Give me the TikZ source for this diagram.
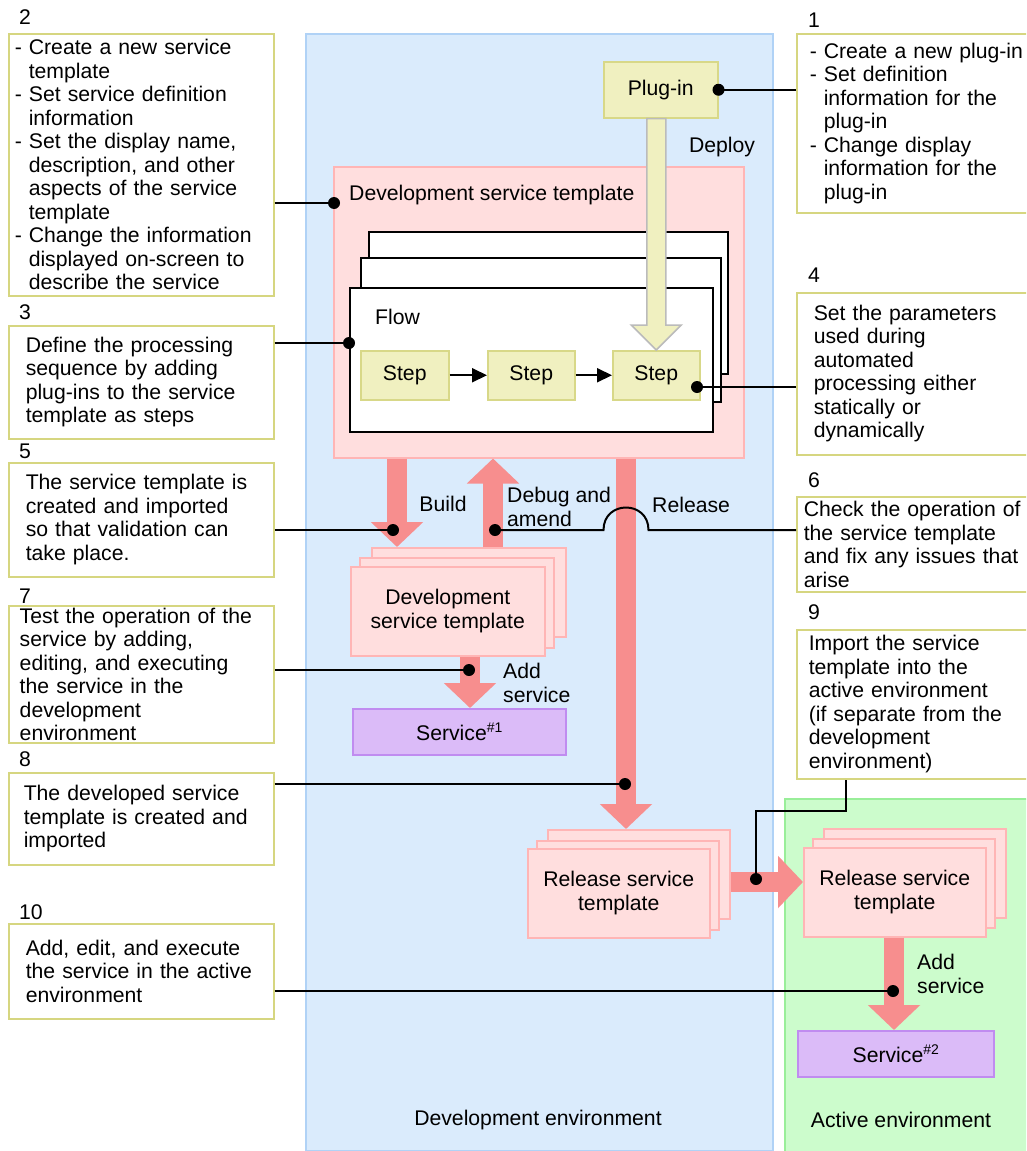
\documentclass[tikz,border=0pt]{standalone}
\usepackage{fontspec}
\setmainfont{Liberation Sans}
\usetikzlibrary{arrows.meta,calc}

\definecolor{devfill}{HTML}{DAEBFC}
\definecolor{devedge}{HTML}{B0D2F6}
\definecolor{actfill}{HTML}{CCFCCC}
\definecolor{actedge}{HTML}{99EE99}
\definecolor{noteedge}{HTML}{D6D680}
\definecolor{tplfill}{HTML}{FFDEDE}
\definecolor{tpledge}{HTML}{FFB5B5}
\definecolor{fatpink}{HTML}{F78E8E}
\definecolor{stepfill}{HTML}{F0F0C0}
\definecolor{stepedge}{HTML}{D8D888}
\definecolor{svcfill}{HTML}{DBBBF8}
\definecolor{svcedge}{HTML}{C08CF0}
\definecolor{deployedge}{HTML}{BBBBBB}

\newcommand\supnum[1]{\raisebox{0.75ex}{\fontsize{14}{14}\selectfont #1}}

\begin{document}
\begin{tikzpicture}[x=1pt,y=-1pt,
  every node/.style={font=\fontsize{21.2}{23.5}\selectfont, text=black},
  area/.style={rectangle, anchor=north west, inner sep=0pt, line width=1.5pt},
  note/.style={rectangle, anchor=north west, draw=noteedge, fill=white,
    line width=1.5pt, align=left, inner ysep=0pt},
  tpl/.style={rectangle, anchor=north west, inner sep=0pt, draw=tpledge,
    fill=tplfill, line width=1.5pt, align=center},
  flowbox/.style={rectangle, anchor=north west, inner sep=0pt, draw=black,
    fill=white, line width=2pt},
  stepbox/.style={rectangle, anchor=north west, inner sep=0pt, draw=stepedge,
    fill=stepfill, line width=1.5pt},
  svcbox/.style={rectangle, anchor=north west, inner sep=0pt, draw=svcedge,
    fill=svcfill, line width=1.5pt},
  fat/.style={draw=fatpink, line width=20pt, -{Triangle[width=51pt,length=25pt]}},
  deploy/.style={draw=deployedge, fill=stepfill, line width=1.5pt, line join=miter},
  conn/.style={draw=black, line width=2pt},
  flowarrow/.style={draw=black, line width=2pt, -{Triangle[width=14pt,length=15pt]}},
  numlbl/.style={anchor=west, inner sep=0pt},
  lbl/.style={inner sep=0pt, align=left}
]
\useasboundingbox (0,0) rectangle (1026,1151);
\clip (0,0) rectangle (1026,1151);

% environments
\node[area, draw=devedge, fill=devfill, minimum width=467pt, minimum height=1117pt] (devenv) at (305,33) {};
\node[area, draw=actedge, fill=actfill, minimum width=260pt, minimum height=360pt] (actenv) at (784,798) {};
\node (devlbl) at (538,1120) {Development environment};
\node (actlbl) at (901,1120) {Active environment};

% numbered notes, left column
\node[numlbl] (n2) at (19,17) {2};
\node[note, minimum width=265pt, minimum height=262pt, inner xsep=6pt, text width=253pt] (c2) at (8,33)
  {- Create a new service\\\hspace*{14pt}template\\- Set service definition\\\hspace*{14pt}information\\- Set the display name,\\\hspace*{14pt}description, and other\\\hspace*{14pt}aspects of the service\\\hspace*{14pt}template\\- Change the information\\\hspace*{14pt}displayed on-screen to\\\hspace*{14pt}describe the service};
\node[numlbl] (n3) at (19,312) {3};
\node[note, minimum width=265pt, minimum height=113pt, inner xsep=17pt, text width=231pt] (c3) at (8,325)
  {Define the processing\\sequence by adding\\plug-ins to the service\\template as steps};
\node[numlbl] (n5) at (19,451) {5};
\node[note, minimum width=265pt, minimum height=114pt, inner xsep=17pt, text width=231pt] (c5) at (8,462)
  {The service template is\\created and imported\\so that validation can\\take place.};
\node[numlbl] (n7) at (19,596) {7};
\node[note, minimum width=265pt, minimum height=137pt, inner xsep=11pt, text width=243pt] (c7) at (8,605)
  {Test the operation of the\\service by adding,\\editing, and executing\\the service in the\\development\\environment};
\node[numlbl] (n8) at (19,759) {8};
\node[note, minimum width=265pt, minimum height=92pt, inner xsep=15pt, text width=235pt] (c8) at (8,772)
  {The developed service\\template is created and\\imported};
\node[numlbl] (n10) at (19,912) {10};
\node[note, minimum width=265pt, minimum height=95pt, inner xsep=17pt, text width=231pt] (c10) at (8,923)
  {Add, edit, and execute\\the service in the active\\environment};

% numbered notes, right column
\node[numlbl] (n1) at (808,20) {1};
\node[note, minimum width=260pt, minimum height=179pt, inner xsep=13pt, text width=234pt] (c1) at (796,33)
  {- Create a new plug-in\\- Set definition\\\hspace*{14pt}information for the\\\hspace*{14pt}plug-in\\- Change display\\\hspace*{14pt}information for the\\\hspace*{14pt}plug-in};
\node[numlbl] (n4) at (808,275) {4};
\node[note, minimum width=260pt, minimum height=162pt, inner xsep=17pt, text width=226pt] (c4) at (796,292)
  {Set the parameters\\used during\\automated\\processing either\\statically or\\dynamically};
\node[numlbl] (n6) at (808,480) {6};
\node[note, minimum width=260pt, minimum height=95pt, inner xsep=7pt, text width=246pt] (c6) at (796,496)
  {Check the operation of\\the service template\\and fix any issues that\\arise};
\node[numlbl] (n9) at (808,612) {9};
\node[note, minimum width=260pt, minimum height=149pt, inner xsep=12pt, text width=236pt] (c9) at (796,629)
  {Import the service\\template into the\\active environment\\(if separate from the\\development\\environment)};

% plug-in and development template
\node[stepbox, minimum width=114pt, minimum height=56pt] (plugin) at (603,61) {Plug-in};
\node[tpl, minimum width=410pt, minimum height=291pt] (devtpl) at (333,166) {};
\node[lbl, anchor=west] (devtpllbl) at (349,195) {Development service template};

% stacked flows
\node[flowbox, minimum width=359pt, minimum height=142pt] (flowC) at (368,231) {};
\node[flowbox, minimum width=360pt, minimum height=144pt] (flowB) at (360,257) {};
\node[flowbox, minimum width=363pt, minimum height=144pt] (flowA) at (349,287) {};
\node[lbl, anchor=west] (flowlbl) at (375,317) {Flow};
\node[stepbox, minimum width=88pt, minimum height=49pt] (step1) at (360,350) {Step};
\node[stepbox, minimum width=87pt, minimum height=49pt] (step2) at (487,350) {Step};
\node[stepbox, minimum width=87pt, minimum height=49pt] (step3) at (612,350) {Step};
\draw[flowarrow] (step1) -- (step2);
\draw[flowarrow] (step2) -- (step3);

% deploy arrow
\draw[deploy] let \p1=(plugin.south), \p2=(step3.north) in
  (\x2-9.5pt,\y1) -- (\x2-9.5pt,\y2+25pt) -- (\x2-25pt,\y2+25pt) -- (\p2)
  -- (\x2+25pt,\y2+25pt) -- (\x2+9.5pt,\y2+25pt) -- (\x2+9.5pt,\y1) -- cycle;
\node (deploylbl) at (722,147) {Deploy};

% columns of the wide arrows
\coordinate (xbuild) at (397,0);
\coordinate (xdebug) at (493,0);
\coordinate (xrel) at (626,0);
\coordinate (xadd1) at (470,0);
\coordinate (xadd2) at (894,0);
\coordinate (yhand) at (0,882);

% stacked templates and services
\node[tpl, minimum width=194pt, minimum height=89pt] (devC) at (371,547) {};
\node[tpl, minimum width=194pt, minimum height=90pt] (devB) at (359,557) {};
\node[tpl, minimum width=194pt, minimum height=89pt] (devA) at (350,566) {Development\\service template};
\node[svcbox, minimum width=213pt, minimum height=46pt] (svc1) at (352,708) {Service\supnum{\#1}};

\node[tpl, minimum width=182pt, minimum height=89pt] (relC) at (547,829) {};
\node[tpl, minimum width=182pt, minimum height=89pt] (relB) at (536,840) {};
\node[tpl, minimum width=182pt, minimum height=89pt] (relA) at (527,848) {Release service\\template};

\node[tpl, minimum width=182pt, minimum height=89pt] (actC) at (823,828) {};
\node[tpl, minimum width=182pt, minimum height=89pt] (actB) at (812,838) {};
\node[tpl, minimum width=182pt, minimum height=89pt] (actA) at (803,847) {Release service\\template};
\node[svcbox, minimum width=196pt, minimum height=46pt] (svc2) at (797,1030) {Service\supnum{\#2}};

% wide arrows
\draw[fat] (devtpl.south -| xbuild) -- (devC.north -| xbuild);
\draw[fat] (devC.north -| xdebug) -- (devtpl.south -| xdebug);
\draw[fat] (devtpl.south -| xrel) -- (relC.north -| xrel);
\draw[fat] (devA.south -| xadd1) -- (svc1.north -| xadd1);
\draw[fat] (relC.east |- yhand) -- (actA.west |- yhand);
\draw[fat] (actA.south -| xadd2) -- (svc2.north -| xadd2);

% arrow labels
\node (buildlbl) at (443,504) {Build};
\node[lbl, anchor=west] (debuglbl) at (507,507) {Debug and\\amend};
\node[lbl, anchor=west] (rellbl) at (652,505) {Release};
\node[lbl, anchor=west] (add1lbl) at (503,683) {Add\\service};
\node[lbl, anchor=west] (add2lbl) at (917,974) {Add\\service};

% note connectors
\coordinate (d2) at (334,203);
\coordinate (d3) at (349,343);
\coordinate (d4) at (697,387);
\coordinate (d5) at (393,530);
\coordinate (d6) at (495,530);
\coordinate (d7) at (469,670);
\coordinate (d8) at (625,784);
\coordinate (d9) at (756,879);
\coordinate (d10) at (893,991);
\coordinate (k9) at (846,811);

\draw[conn] (c1.west |- plugin.east) -- (plugin.east);
\draw[conn] (c2.east |- d2) -- (d2);
\draw[conn] (c3.east |- d3) -- (d3);
\draw[conn] (c4.west |- d4) -- (d4);
\draw[conn] (c5.east |- d5) -- (d5);
\draw[conn] (d6) -- ($(xrel |- d6)+(-22.5,0)$)
  .. controls ($(xrel |- d6)+(-22.5,-30)$) and ($(xrel |- d6)+(22.5,-30)$) .. ($(xrel |- d6)+(22.5,0)$)
  -- (c6.west |- d6);
\draw[conn] (c7.east |- d7) -- (d7);
\draw[conn] (c8.east |- d8) -- (d8);
\draw[conn] (d9) |- (k9) -- (k9 |- c9.south);
\draw[conn] (c10.east |- d10) -- (d10);

\foreach \d in {plugin.east,d2,d3,d4,d5,d6,d7,d8,d9,d10}
  \fill (\d) circle (6pt);
\end{tikzpicture}
\end{document}
